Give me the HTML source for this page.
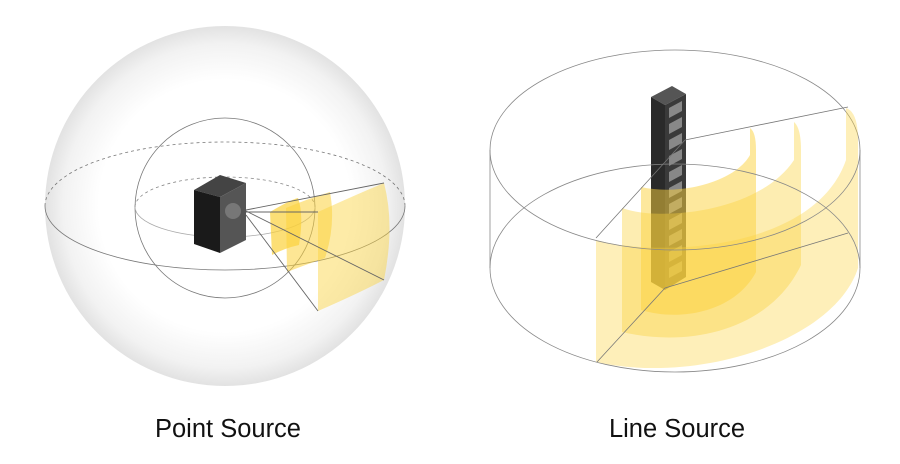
<!DOCTYPE html>
<html><head><style>body{margin:0;background:#fff}svg{display:block}</style></head><body>
<svg width="900" height="464" viewBox="0 0 900 464" xmlns="http://www.w3.org/2000/svg">
<defs>
<radialGradient id="sph" cx="0.5" cy="0.5" r="0.5"><stop offset="0.7" stop-color="#fff"/><stop offset="0.9" stop-color="#f2f2f2"/><stop offset="1" stop-color="#e2e2e2"/></radialGradient>
</defs>
<!-- Left -->
<circle cx="225" cy="206" r="180" fill="url(#sph)"/>
<path d="M45,206 A180,64 0 0 1 405,206" fill="none" stroke="#777" stroke-dasharray="3,3" stroke-width="0.8"/>
<path d="M45,206 A180,64 0 0 0 405,206" fill="none" stroke="#777" stroke-width="0.8"/>
<circle cx="225" cy="208" r="90" fill="none" stroke="#777" stroke-width="0.8"/>
<path d="M135,207 A90,30 0 0 1 315,207" fill="none" stroke="#888" stroke-dasharray="3,3" stroke-width="0.8"/>
<path d="M135,207 A90,30 0 0 0 315,207" fill="none" stroke="#aaa" stroke-width="0.8"/>
<path d="M270,212 Q290,200 298,198 Q304,215 299,245 Q285,248 272,255 Z" fill="#fbd23c" opacity="0.7"/>
<path d="M286,208 Q310,198 330,192 Q336,225 325,258 Q305,265 287,272 Z" fill="#fbd23c" opacity="0.55"/>
<path d="M318,212 Q355,195 384,183 Q395,225 384,280 Q355,295 318,311 Z" fill="#fbd23c" opacity="0.45"/>
<g stroke="#666" stroke-width="0.9"><line x1="246" y1="210" x2="384" y2="183"/><line x1="246" y1="211" x2="384" y2="280"/><line x1="246" y1="215" x2="318" y2="311"/><line x1="246" y1="212" x2="318" y2="212"/></g>
<polygon points="194,190 220,175 246,183 220,197" fill="#444"/>
<polygon points="194,190 220,197 220,253 194,244" fill="#1a1a1a"/>
<polygon points="220,197 246,183 246,240 220,253" fill="#555"/>
<circle cx="233" cy="211" r="8" fill="#777"/>
<!-- Right -->
<path d="M490,150 A185,100 0 0 1 860,150" fill="none" stroke="#888" stroke-width="0.8"/>
<polygon points="651,97 672,86 686,94 665,105" fill="#555"/>
<polygon points="651,97 665,105 665,290 651,282" fill="#2a2a2a"/>
<polygon points="665,105 686,94 686,277 665,290" fill="#3a3a3a"/>
<g fill="#888">
<polygon points="669,108 682,101 682,111 669,118"/><polygon points="669,124 682,117 682,127 669,134"/><polygon points="669,140 682,133 682,143 669,150"/><polygon points="669,156 682,149 682,159 669,166"/><polygon points="669,172 682,165 682,175 669,182"/><polygon points="669,188 682,181 682,191 669,198"/><polygon points="669,204 682,197 682,207 669,214"/><polygon points="669,220 682,213 682,223 669,230"/><polygon points="669,236 682,229 682,239 669,246"/><polygon points="669,252 682,245 682,255 669,262"/><polygon points="669,268 682,261 682,271 669,278"/>
</g>
<!-- outer sector -->
<path d="M596,240 C660,258 815,250 846,160 L846,108 Q858,112 858,140 L858,268 C835,340 700,385 596,362 Z" fill="#fbd23c" opacity="0.36"/>
<!-- middle sector -->
<path d="M622,208 C660,222 760,212 794,160 L794,122 Q801,128 801,150 L801,265 C770,330 690,348 622,332 Z" fill="#fbd23c" opacity="0.4"/>
<!-- inner sector -->
<path d="M641,187 C680,196 735,182 750,155 L750,128 Q756,132 756,150 L756,272 C735,312 680,322 641,310 Z" fill="#fbd23c" opacity="0.5"/>
<path d="M490,150 A185,100 0 0 0 860,150" fill="none" stroke="#888" stroke-width="0.8"/>
<path d="M490,268 A185,104 0 0 1 860,268" fill="none" stroke="#888" stroke-width="0.8"/>
<path d="M490,268 A185,104 0 0 0 860,268" fill="none" stroke="#888" stroke-width="0.8"/>
<line x1="490" y1="150" x2="490" y2="268" stroke="#888" stroke-width="0.8"/>
<line x1="860" y1="150" x2="860" y2="268" stroke="#888" stroke-width="0.8"/>
<g stroke="#777" stroke-width="0.8"><line x1="596" y1="238" x2="685" y2="140"/><line x1="685" y1="140" x2="848" y2="107"/><line x1="597" y1="362" x2="665" y2="288"/><line x1="665" y1="288" x2="848" y2="233"/></g>
<g font-family="Liberation Sans, sans-serif" font-size="25.5" fill="#111" text-anchor="middle">
<text x="228" y="437">Point Source</text>
<text x="677" y="437">Line Source</text>
</g>
</svg>
</body></html>
